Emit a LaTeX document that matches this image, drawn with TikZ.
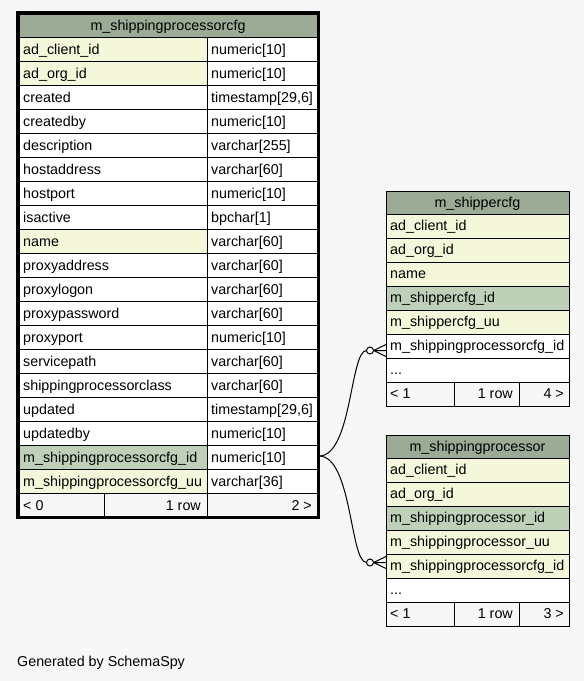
\documentclass[tikz,border=0pt]{standalone}
\usepackage{fontspec}
\setmainfont{Liberation Sans}
\definecolor{bgc}{HTML}{F7F7F7}
\definecolor{hdr}{HTML}{9BAB96}
\definecolor{yel}{HTML}{F4F7DA}
\definecolor{pkc}{HTML}{BED1B8}
\tikzset{
  txt/.style={anchor=base west, inner sep=0pt, font=\fontsize{14.3}{16}\selectfont},
  txtr/.style={anchor=base east, inner sep=0pt, font=\fontsize{14.3}{16}\selectfont},
  txtc/.style={anchor=base, inner sep=0pt, font=\fontsize{14.3}{16}\selectfont},
  cellbox/.style={draw=black, line width=1pt},
  conn/.style={draw=black, line width=1pt},
}
% left table row: top, name, type, fill, id
\newcommand\Lrow[5]{%
  \filldraw[cellbox, fill=#4] (19,#1) rectangle (207,#1+24);
  \filldraw[cellbox, fill=white] (207,#1) rectangle (317,#1+24);
  \node[txt] (#5n) at (23,#1+17.3) {#2};
  \node[txt] (#5t) at (211,#1+17.3) {#3};
}
% right table row: top, name, fill, id
\newcommand\Rrow[4]{%
  \filldraw[cellbox, fill=#3] (386,#1) rectangle (569,#1+24);
  \node[txt] (#4) at (390,#1+16.5) {#2};
}
\begin{document}
\begin{tikzpicture}[x=1pt,y=-1pt]
\fill[bgc] (0,0) rectangle (584,681);
\useasboundingbox (0,0) rectangle (584,681);

% ---------- left table ----------
\filldraw[cellbox, fill=hdr] (19,14) rectangle (317,37);
\node[txtc] (Lhead) at (168,30.5) {m\_shippingprocessorcfg};
\Lrow{37}{ad\_client\_id}{numeric[10]}{yel}{La}
\Lrow{61}{ad\_org\_id}{numeric[10]}{yel}{Lb}
\Lrow{85}{created}{timestamp[29,6]}{white}{Lc}
\Lrow{109}{createdby}{numeric[10]}{white}{Ld}
\Lrow{133}{description}{varchar[255]}{white}{Le}
\Lrow{157}{hostaddress}{varchar[60]}{white}{Lf}
\Lrow{181}{hostport}{numeric[10]}{white}{Lg}
\Lrow{205}{isactive}{bpchar[1]}{white}{Lh}
\Lrow{229}{name}{varchar[60]}{yel}{Li}
\Lrow{253}{proxyaddress}{varchar[60]}{white}{Lj}
\Lrow{277}{proxylogon}{varchar[60]}{white}{Lk}
\Lrow{301}{proxypassword}{varchar[60]}{white}{Ll}
\Lrow{325}{proxyport}{numeric[10]}{white}{Lm}
\Lrow{349}{servicepath}{varchar[60]}{white}{Ln}
\Lrow{373}{shippingprocessorclass}{varchar[60]}{white}{Lo}
\Lrow{397}{updated}{timestamp[29,6]}{white}{Lp}
\Lrow{421}{updatedby}{numeric[10]}{white}{Lq}
\Lrow{445}{m\_shippingprocessorcfg\_id}{numeric[10]}{pkc}{Lr}
\Lrow{469}{m\_shippingprocessorcfg\_uu}{varchar[36]}{yel}{Ls}
\filldraw[cellbox, fill=bgc] (19,493) rectangle (104,517);
\filldraw[cellbox, fill=bgc] (104,493) rectangle (207,517);
\filldraw[cellbox, fill=bgc] (207,493) rectangle (317,517);
\node[txt] (Lf1) at (23,510.3) {< 0};
\node[txtr] (Lf2) at (201,510.3) {1 row};
\node[txtr] (Lf3) at (312,510.3) {2 >};
\draw[line width=3pt] (17.5,12.5) rectangle (318.5,517.5);
\coordinate (Lout) at (319,456);

% ---------- m_shippercfg ----------
\filldraw[cellbox, fill=hdr] (386,191) rectangle (569,214);
\node[txtc] (Ahead) at (477.5,207) {m\_shippercfg};
\Rrow{214}{ad\_client\_id}{yel}{Aa}
\Rrow{238}{ad\_org\_id}{yel}{Ab}
\Rrow{262}{name}{yel}{Ac}
\Rrow{286}{m\_shippercfg\_id}{pkc}{Ad}
\Rrow{310}{m\_shippercfg\_uu}{yel}{Ae}
\Rrow{334}{m\_shippingprocessorcfg\_id}{white}{Af}
\Rrow{358}{...}{white}{Ag}
\filldraw[cellbox, fill=bgc] (386,382) rectangle (454,406);
\filldraw[cellbox, fill=bgc] (454,382) rectangle (519,406);
\filldraw[cellbox, fill=bgc] (519,382) rectangle (569,406);
\node[txt] (Af1) at (390,398.5) {< 1};
\node[txtr] (Af2) at (513,398.5) {1 row};
\node[txtr] (Af3) at (564,398.5) {4 >};

% ---------- m_shippingprocessor ----------
\filldraw[cellbox, fill=hdr] (386,435) rectangle (569,458);
\node[txtc] (Bhead) at (477.5,451) {m\_shippingprocessor};
\Rrow{458}{ad\_client\_id}{yel}{Ba}
\Rrow{482}{ad\_org\_id}{yel}{Bb}
\Rrow{506}{m\_shippingprocessor\_id}{pkc}{Bc}
\Rrow{530}{m\_shippingprocessor\_uu}{yel}{Bd}
\Rrow{554}{m\_shippingprocessorcfg\_id}{yel}{Be}
\Rrow{578}{...}{white}{Bf}
\filldraw[cellbox, fill=bgc] (386,602) rectangle (454,626);
\filldraw[cellbox, fill=bgc] (454,602) rectangle (519,626);
\filldraw[cellbox, fill=bgc] (519,602) rectangle (569,626);
\node[txt] (Bf1) at (390,618.5) {< 1};
\node[txtr] (Bf2) at (513,618.5) {1 row};
\node[txtr] (Bf3) at (564,618.5) {3 >};

% ---------- connectors ----------
\coordinate (A0) at (366.5,350.5);
\coordinate (B0) at (366.5,562.5);
\draw[conn] (Lout) .. controls (352,456) and (350,350.5) .. (A0);
\draw[conn] (Lout) .. controls (352,456) and (350,562.5) .. (B0);
\draw[conn, fill=white] (370,350.5) circle (3.5);
\draw[conn, fill=white] (370,562.5) circle (3.5);
\draw[conn] (373.5,350.5) -- (386,344.5) (373.5,350.5) -- (386,350.5) (373.5,350.5) -- (386,356.5);
\draw[conn] (373.5,562.5) -- (386,556.5) (373.5,562.5) -- (386,562.5) (373.5,562.5) -- (386,568.5);

\node[txt] (gen) at (17,666) {Generated by SchemaSpy};
\end{tikzpicture}
\end{document}
